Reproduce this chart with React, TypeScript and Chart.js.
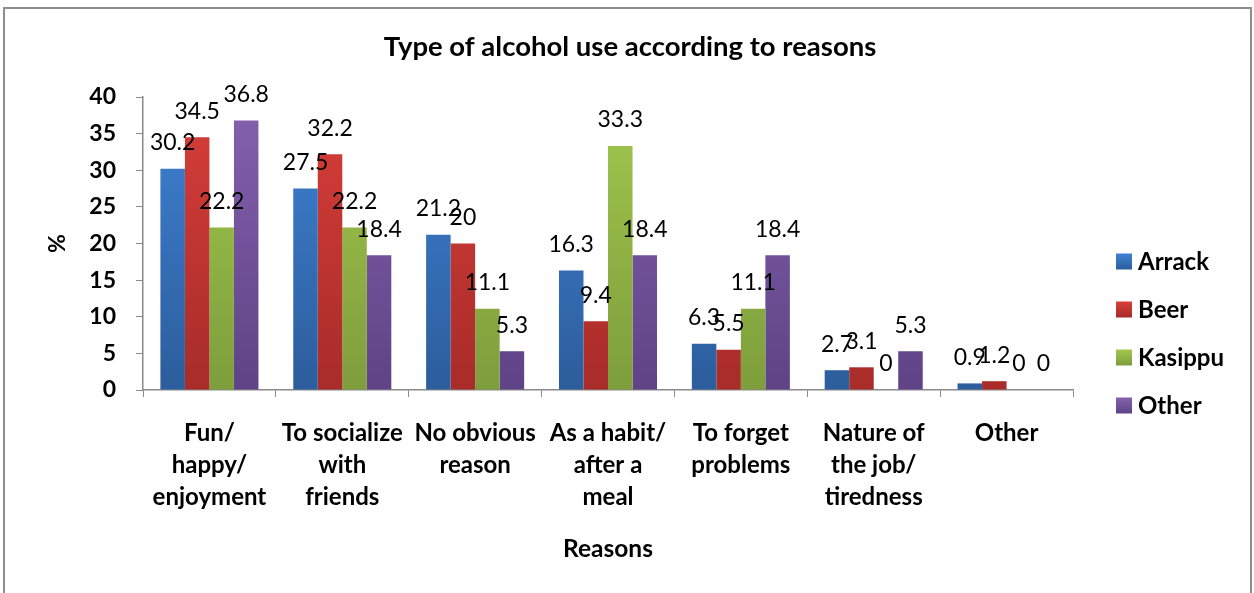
import React, { useEffect, useRef } from "react";
import { Chart, registerables } from "chart.js";

Chart.register(...registerables);

// Categories (multi-line tick labels)
const categories: string[][] = [
  ["Fun/", "happy/", "enjoyment"],
  ["To socialize", "with", "friends"],
  ["No obvious", "reason"],
  ["As a habit/", "after a", "meal"],
  ["To forget", "problems"],
  ["Nature of", "the job/", "tiredness"],
  ["Other"],
];

const seriesNames = ["Arrack", "Beer", "Kasippu", "Other"];

// Percentages per reason
const arrack = [30.2, 27.5, 21.2, 16.3, 6.3, 2.7, 0.9];
const beer = [34.5, 32.2, 20, 9.4, 5.5, 3.1, 1.2];
const kasippu = [22.2, 22.2, 11.1, 33.3, 11.1, 0, 0];
const other = [36.8, 18.4, 5.3, 18.4, 18.4, 5.3, 0];

const yMin = 0;
const yMax = 40;
const yStep = 5;

const chartTitle = "Type of alcohol use according to reasons";

// Light/dark pairs for each series' gradient fill
const seriesLight = ["#3f82d4", "#d83e3a", "#a2c84e", "#8562ae"];
const seriesDark = ["#2c5d9c", "#a82c29", "#7e9d3c", "#5f4386"];

const FONT = 'Lato, "Noto Sans", sans-serif';
const AXIS_GREY = "#8a8a8a";

function gradientFor(chart: Chart, i: number) {
  const area = chart.chartArea;
  if (!area) return seriesLight[i];
  const g = chart.ctx.createLinearGradient(0, area.top, 0, area.bottom);
  g.addColorStop(0, seriesLight[i]);
  g.addColorStop(1, seriesDark[i]);
  return g;
}

// Title centred across the whole canvas
const wideTitle = {
  id: "wideTitle",
  afterDraw(chart: Chart) {
    const ctx = chart.ctx;
    ctx.save();
    ctx.font = `bold 27.5px ${FONT}`;
    ctx.fillStyle = "#000";
    ctx.textAlign = "center";
    ctx.textBaseline = "middle";
    ctx.fillText(chartTitle, chart.width / 2 + 3, 47);
    ctx.restore();
  },
};

// Value labels above each bar
const valueLabels = {
  id: "valueLabels",
  afterDatasetsDraw(chart: Chart) {
    const ctx = chart.ctx;
    ctx.save();
    ctx.font = `normal 23px ${FONT}`;
    ctx.fillStyle = "#000";
    ctx.textAlign = "center";
    ctx.textBaseline = "middle";
    chart.data.datasets.forEach((ds, di) => {
      const meta = chart.getDatasetMeta(di);
      meta.data.forEach((el: any, idx: number) => {
        const v = ds.data[idx] as number;
        ctx.fillText(String(v), el.x, el.y - 26);
      });
    });
    ctx.restore();
  },
};

// Legend drawn to the right of the plot
const sideLegend = {
  id: "sideLegend",
  afterDraw(chart: Chart) {
    const ctx = chart.ctx;
    const area = chart.chartArea;
    const x = area.right + 43;
    const rowGap = 48;
    const firstY = (area.top + area.bottom) / 2 + 18;
    ctx.save();
    ctx.font = `bold 24px ${FONT}`;
    ctx.textAlign = "left";
    ctx.textBaseline = "middle";
    seriesNames.forEach((name, i) => {
      const cy = firstY + i * rowGap;
      const g = ctx.createLinearGradient(0, cy - 8, 0, cy + 8);
      g.addColorStop(0, seriesLight[i]);
      g.addColorStop(1, seriesDark[i]);
      ctx.fillStyle = g;
      ctx.fillRect(x, cy - 8, 16, 16);
      ctx.fillStyle = "#000";
      ctx.fillText(name, x + 22, cy + 1);
    });
    ctx.restore();
  },
};

export default function App() {
  const canvasRef = useRef<HTMLCanvasElement | null>(null);

  useEffect(() => {
    const canvas = canvasRef.current;
    if (!canvas) return;
    const seriesData = [arrack, beer, kasippu, other];
    const chart = new Chart(canvas, {
      type: "bar",
      data: {
        labels: categories,
        datasets: seriesData.map((d, i) => ({
          label: seriesNames[i],
          data: d,
          backgroundColor: (c: any) => gradientFor(c.chart, i),
          borderWidth: 0,
          barPercentage: 1,
          categoryPercentage: 0.738,
        })),
      },
      options: {
        responsive: false,
        animation: false,
        devicePixelRatio: 1,
        layout: { padding: { left: 0, right: 181, top: 97, bottom: 0 } },
        plugins: {
          legend: { display: false },
          tooltip: { enabled: false },
          title: { display: false },
        },
        scales: {
          x: {
            grid: {
              display: true,
              drawOnChartArea: false,
              drawTicks: true,
              tickLength: 7,
              color: AXIS_GREY,
              offset: true,
            },
            border: { display: true, color: AXIS_GREY, width: 1.5 },
            ticks: {
              color: "#000",
              font: { family: FONT, size: 24, weight: "bold", lineHeight: 32 / 24 },
              padding: 20,
              autoSkip: false,
              maxRotation: 0,
              minRotation: 0,
            },
            title: {
              display: true,
              text: "Reasons",
              color: "#000",
              font: { family: FONT, size: 24.5, weight: "bold", lineHeight: 1.2 },
              padding: { top: 0, bottom: 29 },
            },
            afterFit: (scale: any) => {
              scale.height = 203;
            },
          },
          y: {
            min: yMin,
            max: yMax,
            ticks: {
              stepSize: yStep,
              color: "#000",
              font: { family: FONT, size: 23, weight: "bold" },
              padding: 20,
            },
            grid: {
              display: true,
              drawOnChartArea: false,
              drawTicks: true,
              tickLength: 7,
              color: AXIS_GREY,
            },
            border: { display: true, color: AXIS_GREY, width: 1.5 },
            title: {
              display: true,
              text: "%",
              color: "#000",
              font: { family: FONT, size: 23, weight: "bold", lineHeight: 1.2 },
              padding: { top: 44, bottom: 0 },
            },
            afterFit: (scale: any) => {
              scale.width = 143;
            },
          },
        },
      },
      plugins: [valueLabels, sideLegend, wideTitle],
    });
    return () => chart.destroy();
  }, []);

  return (
    <div
      style={{
        position: "fixed",
        left: 0,
        top: 0,
        width: 1254,
        height: 593,
        overflow: "hidden",
        background: "#fff",
      }}
    >
      <div
        style={{
          position: "absolute",
          left: 3,
          top: 7,
          width: 1249,
          height: 640,
          border: "2px solid #8d8d8d",
          boxSizing: "border-box",
        }}
      />
      <canvas
        ref={canvasRef}
        width={1254}
        height={593}
        style={{ position: "absolute", left: 0, top: 0, width: 1254, height: 593 }}
      />
    </div>
  );
}
